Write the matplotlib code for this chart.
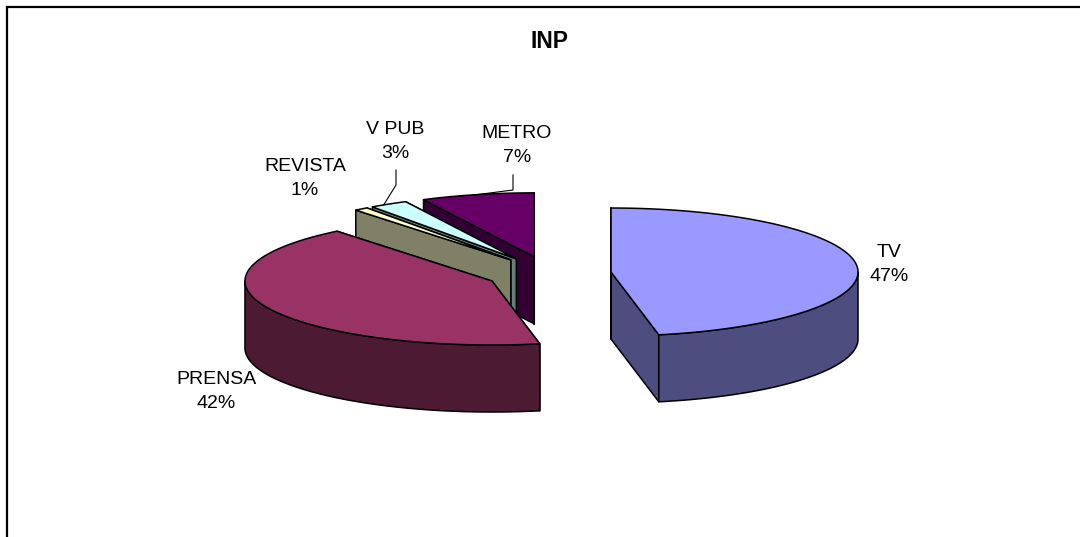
import numpy as np
import matplotlib
matplotlib.use("Agg")
import matplotlib.pyplot as plt
from matplotlib.patches import Polygon

plt.rcParams['font.family'] = ['Liberation Sans', 'DejaVu Sans']

# slices, clockwise from 12 o'clock (share of the pie)
names = ['TV', 'PRENSA', 'REVISTA', 'V PUB', 'METRO']
shares = [46.9, 42.3, 0.9, 2.5, 7.4]
pct_labels = ['47%', '42%', '1%', '3%', '7%']
top_colors = ['#9999FF', '#993366', '#FFFFCC', '#CCFFFF', '#660066']
side_colors = ['#4D4D80', '#4D1A33', '#808066', '#668080', '#330033']

# pie geometry in pixels
CX, CY = 548.7, 273.7
RX, RY = 247, 64
DEPTH = 67
EXPLODE_X, EXPLODE_Y = 62.6, 17.3
LW = 1.1


def pt(c, ang, r=1.0):
    return np.array([c[0] + r * RX * np.sin(ang), c[1] - r * RY * np.cos(ang)])


def arc(c, a0, a1):
    n = max(int(np.degrees(a1 - a0)), 2) + 1
    t = np.linspace(a0, a1, n)
    return np.column_stack([c[0] + RX * np.sin(t), c[1] - RY * np.cos(t)])


def face(ax, pts, color, z):
    ax.add_patch(Polygon(pts, closed=True, facecolor=color, edgecolor='black',
                         linewidth=LW, joinstyle='round', zorder=z))


fig = plt.figure(figsize=(10.8, 5.37), dpi=100)
ax = fig.add_axes([0, 0, 1, 1])
ax.set_xlim(0, 1080)
ax.set_ylim(537, 0)
ax.axis('off')

edges = np.radians(np.concatenate([[0], np.cumsum(shares)]) * 3.6)
down = np.array([0, DEPTH])

# back to front
order = [4, 3, 2, 0, 1]
centers = {}
for z, i in enumerate(order):
    a0, a1 = edges[i], edges[i + 1]
    mid = (a0 + a1) / 2
    c = np.array([CX + EXPLODE_X * np.sin(mid), CY - EXPLODE_Y * np.cos(mid)])
    centers[i] = c
    base = z * 10 + 2
    # cut faces
    for k, a in enumerate([a1, a0]):
        p = pt(c, a)
        face(ax, [c, p, p + down, c + down], side_colors[i], base + k)
    # outer wall, only the part facing the viewer
    w0, w1 = max(a0, np.pi / 2), min(a1, 3 * np.pi / 2)
    if w1 > w0:
        top = arc(c, w0, w1)
        face(ax, np.vstack([top, (top + down)[::-1]]), side_colors[i], base + 2)
    # top
    face(ax, np.vstack([[c], arc(c, a0, a1)]), top_colors[i], base + 3)

# frame: only left and top are inside the picture
ax.plot([7, 7, 1085], [545, 7, 7], color='black', lw=1.6,
        solid_joinstyle='miter', zorder=100)

ax.text(550, 41, 'INP', fontsize=16.5, fontweight='bold', ha='center', va='center')

label_pos = [(889, 264.5), (216, 391.5), (305, 178.5), (395, 141.5), (517, 145.5)]
for name, pct, (x, y) in zip(names, pct_labels, label_pos):
    ax.text(x, y, name + '\n' + pct, fontsize=14, ha='center', va='center',
            linespacing=1.57, color='black', zorder=101)

# leader lines
vp = pt(centers[3], edges[3] + 0.35 * (edges[4] - edges[3]))
ax.plot([396, 396, vp[0]], [170, 185, vp[1]], color='black', lw=0.8, zorder=60)
mt = pt(centers[4], (edges[4] + edges[5]) / 2)
ax.plot([513, 513, mt[0]], [175, 190, mt[1]], color='black', lw=0.8, zorder=60)

fig.savefig('out.png', dpi=100)
